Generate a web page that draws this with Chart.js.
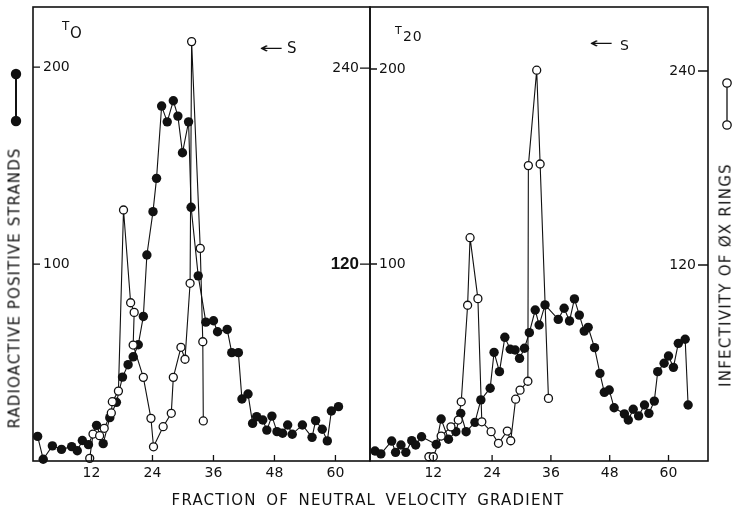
<!DOCTYPE html>
<html>
<head>
<meta charset="utf-8">
<script src="https://cdn.jsdelivr.net/npm/chart.js@4.4.1/dist/chart.umd.min.js"></script>
<style>
body { margin: 0; background: #fff; }
#fig { position: relative; width: 735px; height: 510px; font-family: "DejaVu Sans", sans-serif; color: #111; }
#fig canvas { position: absolute; left: 0; top: 0; }
.t { position: absolute; white-space: nowrap; line-height: 1; }
.rot { transform: translate(-50%, -50%) rotate(-90deg); }
.arrow { transform-origin: 0 50%; transform: scaleX(1.9); }
</style>
</head>
<body>
<div id="fig">
  <canvas id="c0" width="735" height="510"></canvas>
  <canvas id="c20" width="735" height="510"></canvas>

  <div class="t" style="left:368px;top:500px;transform:translate(-50%,-50%);font-size:15px;letter-spacing:1.2px;word-spacing:3.5px">FRACTION OF NEUTRAL VELOCITY GRADIENT</div>
  <div class="t rot" style="left:15px;top:288px;font-size:15px;letter-spacing:1.1px">RADIOACTIVE POSITIVE STRANDS</div>
  <div class="t rot" style="left:726px;top:275px;font-size:15px;letter-spacing:1.26px">INFECTIVITY OF ØX RINGS</div>

  <div class="t" style="left:62px;top:19.6px;font-size:12px">T</div>
  <div class="t" style="left:70px;top:26px;font-size:15px">O</div>
  <div class="t" style="left:395px;top:24.7px;font-size:11px">T</div>
  <div class="t" style="left:403px;top:29px;font-size:14px;letter-spacing:0.8px">20</div>

  <div class="t arrow" style="left:259px;top:40.7px;font-size:15px">←</div>
  <div class="t" style="left:287px;top:41.2px;font-size:15px">S</div>
  <div class="t arrow" style="left:589px;top:35.7px;font-size:15px">←</div>
  <div class="t" style="left:620px;top:38.3px;font-size:14px">S</div>
</div>

<script>
// tick labels
const xTicks = [12, 24, 36, 48, 60];
const strandTicks = [100, 200];
const ringTicks = [120, 240];

// T0 panel: radioactive positive strands (filled)
const t0StrandFrac = [1.4, 2.5, 4.3, 6.1, 8.1, 9.2, 10.2, 11.4, 13.0, 14.3, 15.6, 16.9, 18.1, 19.2, 20.2, 21.2, 22.2, 22.9, 24.1, 24.8, 25.8, 26.9, 28.1, 29.0, 29.9, 31.1, 31.6, 33.0, 34.5, 36.0, 36.8, 38.7, 39.6, 40.9, 41.6, 42.8, 43.7, 44.5, 45.7, 46.5, 47.5, 48.5, 49.6, 50.6, 51.5, 53.5, 55.4, 56.1, 57.4, 58.4, 59.2, 60.6];
const t0Strands = [12.5, 0.9, 7.7, 5.9, 7.3, 5.2, 10.4, 8.3, 18.1, 8.8, 22, 29.8, 42.6, 48.9, 52.9, 59.0, 73.4, 104.6, 126.6, 143.5, 180.2, 172.2, 182.9, 175.1, 156.5, 172.2, 128.8, 94.0, 70.5, 71.2, 65.6, 66.8, 55.0, 55.0, 31.5, 34.0, 19.1, 22.5, 20.8, 15.7, 22.8, 14.9, 14.1, 18.3, 13.6, 18.3, 12.0, 20.5, 16.1, 10.2, 25.4, 27.6];
// T0 panel: infectivity of phiX rings (open)
const t0RingFrac = [11.65, 12.3, 13.6, 14.5, 15.9, 16.1, 17.3, 18.3, 19.7, 20.4, 20.2, 22.2, 23.7, 24.2, 26.1, 27.7, 28.1, 29.6, 30.4, 31.4, 31.7, 33.4, 33.9, 34.0];
const t0Rings = [1.0, 15.9, 14.9, 19.4, 28.8, 35.7, 42.2, 153.1, 96.3, 90.4, 70.4, 50.6, 25.5, 8.1, 20.4, 28.6, 50.6, 69.0, 61.7, 108.2, 256.2, 129.6, 72.4, 23.9];

// T20 panel
const t20StrandFrac = [0.1, 1.3, 3.5, 4.3, 5.4, 6.4, 7.6, 8.4, 9.6, 12.6, 13.6, 15.1, 16.6, 17.6, 18.7, 20.5, 21.7, 23.6, 24.4, 25.5, 26.6, 27.7, 28.7, 29.6, 30.6, 31.6, 32.8, 33.6, 34.8, 37.5, 38.7, 39.8, 40.8, 41.8, 42.8, 43.6, 44.9, 46.0, 46.9, 47.9, 48.9, 51.0, 51.8, 52.8, 53.9, 55.1, 56.0, 57.1, 57.8, 59.1, 60.0, 61.0, 62.0, 63.4, 64.0];
const t20Strands = [4.1, 2.6, 9.2, 3.4, 7.2, 3.4, 9.4, 7.2, 11.4, 7.5, 20.5, 10.1, 14.0, 23.4, 14.0, 18.8, 30.3, 36.3, 54.7, 44.8, 62.4, 56.3, 55.9, 51.6, 56.8, 64.8, 76.4, 68.7, 79.0, 71.6, 77.3, 70.8, 82.1, 73.8, 65.6, 67.5, 57.1, 43.9, 34.2, 35.4, 26.3, 23.1, 20.0, 25.5, 22.1, 27.7, 23.4, 29.7, 44.8, 49.1, 52.8, 47.0, 59.3, 61.4, 27.7];
const t20RingFrac = [11.1, 12.0, 13.6, 15.6, 17.1, 17.7, 19.0, 19.5, 21.1, 21.9, 23.8, 25.3, 27.1, 27.8, 28.8, 29.7, 31.3, 31.4, 33.1, 33.8, 35.5];
const t20Rings = [1.4, 1.4, 14.2, 19.9, 24.1, 35.4, 95.1, 136.9, 99.2, 23.0, 16.9, 9.7, 17.3, 11.3, 37.0, 42.6, 48.1, 181.5, 240.5, 182.5, 37.5];

const INK = '#111';
const tickFont = { family: 'DejaVu Sans', size: 14 };

function pts(xs, ys) {
  return xs.map((x, i) => ({ x: x, y: ys[i] }));
}

// frame round the plot, inward tick marks, and the little series keys
const framePlugin = {
  id: 'frame',
  afterDraw(chart, args, o) {
    const { ctx, chartArea: a, scales } = chart;
    ctx.save();
    ctx.strokeStyle = INK;
    ctx.lineWidth = 1.6;
    ctx.strokeRect(a.left, a.top, a.right - a.left, a.bottom - a.top);
    ctx.lineWidth = 1.3;
    ctx.beginPath();
    scales.x.ticks.forEach(t => {
      const px = scales.x.getPixelForValue(t.value);
      ctx.moveTo(px, a.bottom);
      ctx.lineTo(px, a.bottom - o.xTick);
    });
    scales.y.ticks.forEach(t => {
      const py = scales.y.getPixelForValue(t.value);
      ctx.moveTo(a.left, py);
      ctx.lineTo(a.left + o.yTick, py);
    });
    scales.y1.ticks.forEach(t => {
      const py = scales.y1.getPixelForValue(t.value);
      ctx.moveTo(a.right, py);
      ctx.lineTo(a.right - o.y1Tick, py);
    });
    ctx.stroke();

    const k = o.key;
    ctx.lineWidth = k.filled ? 2 : 1.3;
    ctx.beginPath();
    ctx.moveTo(k.x, k.y1);
    ctx.lineTo(k.x, k.y2);
    ctx.stroke();
    [k.y1, k.y2].forEach(y => {
      ctx.beginPath();
      ctx.arc(k.x, y, k.r, 0, Math.PI * 2);
      if (k.filled) {
        ctx.fillStyle = INK;
        ctx.fill();
      } else {
        ctx.fillStyle = '#fff';
        ctx.fill();
        ctx.stroke();
      }
    });
    ctx.restore();
  }
};

function panel(id, p) {
  return new Chart(document.getElementById(id), {
    type: 'line',
    data: {
      datasets: [
        {
          data: pts(p.ringX, p.rings),
          yAxisID: 'y1',
          borderColor: INK,
          borderWidth: 1.1,
          pointRadius: 4,
          pointBackgroundColor: '#fff',
          pointBorderColor: INK,
          pointBorderWidth: 1.3,
          tension: 0,
          clip: false
        },
        {
          data: pts(p.strandX, p.strands),
          yAxisID: 'y',
          borderColor: INK,
          borderWidth: 1.1,
          pointRadius: 4.7,
          pointBackgroundColor: INK,
          pointBorderColor: INK,
          pointBorderWidth: 0,
          tension: 0,
          clip: false
        }
      ]
    },
    options: {
      responsive: false,
      animation: false,
      events: [],
      layout: { padding: p.pad },
      plugins: {
        legend: { display: false },
        tooltip: { enabled: false },
        frame: p.frame
      },
      scales: {
        x: {
          type: 'linear',
          position: 'bottom',
          min: p.xr[0],
          max: p.xr[1],
          afterBuildTicks: s => { s.ticks = xTicks.map(v => ({ value: v })); },
          afterFit: s => { s.height = 49; s.paddingLeft = 0; s.paddingRight = 0; },
          grid: { display: false, drawTicks: false },
          border: { display: false },
          ticks: { font: tickFont, color: INK, padding: 4, maxRotation: 0, autoSkip: false }
        },
        y: {
          position: 'left',
          min: p.yr[0],
          max: p.yr[1],
          afterBuildTicks: s => { s.ticks = strandTicks.map(v => ({ value: v })); },
          afterFit: s => { s.width = 0; s.paddingTop = 0; s.paddingBottom = 0; },
          grid: { display: false, drawTicks: false },
          border: { display: false },
          ticks: { mirror: true, padding: p.yPad, font: tickFont, color: INK }
        },
        y1: {
          position: 'right',
          min: p.y1r[0],
          max: p.y1r[1],
          afterBuildTicks: s => { s.ticks = ringTicks.map(v => ({ value: v })); },
          afterFit: s => { s.width = 0; s.paddingTop = 0; s.paddingBottom = 0; },
          grid: { display: false, drawTicks: false },
          border: { display: false },
          // mirrored right-hand labels are placed at left + padding, so pull them in
          ticks: { mirror: true, padding: p.y1Pad, font: p.y1Font || tickFont, color: INK }
        }
      }
    },
    plugins: [framePlugin]
  });
}

panel('c0', {
  strandX: t0StrandFrac, strands: t0Strands,
  ringX: t0RingFrac, rings: t0Rings,
  pad: { left: 33, right: 365, top: 7, bottom: 0 },
  xr: [0.49, 66.8], yr: [0, 230.5], y1r: [-0.61, 277.4],
  yPad: 10, y1Pad: -11,
  // the 120 label is pasted in bold on the original
  y1Font: c => (c.tick && c.tick.value === 120)
    ? { family: 'Liberation Sans', size: 17, weight: 'bold' }
    : tickFont,
  frame: { xTick: 6, yTick: 7, y1Tick: 10, key: { x: 16, y1: 74, y2: 121, r: 5.2, filled: true } }
});

panel('c20', {
  strandX: t20StrandFrac, strands: t20Strands,
  ringX: t20RingFrac, rings: t20Rings,
  pad: { left: 370, right: 27, top: 7, bottom: 0 },
  xr: [-0.92, 68.06], yr: [-1.03, 231.8], y1r: [-1.23, 279.6],
  yPad: 9, y1Pad: -12,
  frame: { xTick: 6, yTick: 7, y1Tick: 10, key: { x: 727, y1: 83, y2: 125, r: 4.2, filled: false } }
});
</script>
</body>
</html>
